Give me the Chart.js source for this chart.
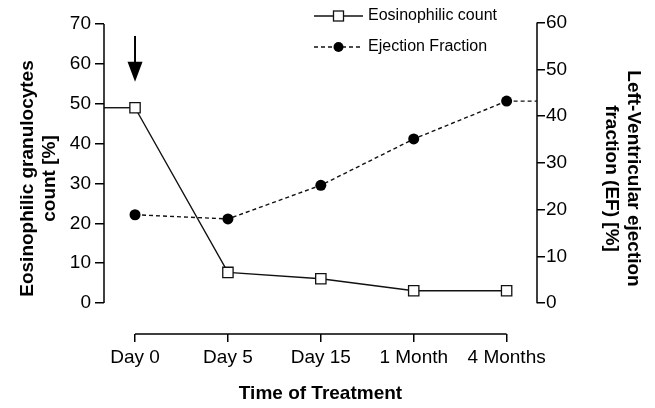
<!DOCTYPE html>
<html><head><meta charset="utf-8">
<script src="https://cdn.jsdelivr.net/npm/chart.js@4/dist/chart.umd.min.js"></script>
<style>html,body{margin:0;padding:0;background:#fff}</style>
</head><body>
<canvas id="c" width="655" height="408"></canvas>
<script>
const categories = ['Day 0', 'Day 5', 'Day 15', '1 Month', '4 Months'];
const eosinophilCount = [49, 7.7, 6.1, 3.1, 3.1];
const ejectionFraction = [18.9, 18.0, 25.2, 35.1, 43.2];
const leftTicks = [0, 10, 20, 30, 40, 50, 60, 70];
const rightTicks = [0, 10, 20, 30, 40, 50, 60];
const seriesNames = ['Eosinophilic count', 'Ejection Fraction'];
const arrowFrom = 67;   // start of treatment arrow (eosinophil axis value) at Day 0
const arrowTo = 55.5;

const FONT = 'Liberation Sans, Arial, Helvetica, sans-serif';
Chart.defaults.font.family = FONT;
Chart.defaults.font.size = 19;
Chart.defaults.color = '#000';

const decor = {
  id: 'decor',
  beforeDatasetsDraw(chart) {
    const {ctx, chartArea: a, scales: {x, yL, yR}} = chart;
    const last = categories.length - 1;
    ctx.save();
    ctx.strokeStyle = '#000';
    ctx.lineWidth = 1.5;
    ctx.setLineDash([]);
    ctx.beginPath();
    ctx.moveTo(a.left, yL.getPixelForValue(leftTicks[0]));
    ctx.lineTo(a.left, yL.getPixelForValue(leftTicks[leftTicks.length - 1]));
    ctx.moveTo(a.right, yR.getPixelForValue(rightTicks[0]));
    ctx.lineTo(a.right, yR.getPixelForValue(rightTicks[rightTicks.length - 1]));
    ctx.moveTo(x.getPixelForValue(0), a.bottom);
    ctx.lineTo(x.getPixelForValue(last), a.bottom);
    ctx.stroke();
    // series extensions to their axes
    ctx.lineWidth = 1.4;
    ctx.strokeStyle = '#111';
    ctx.beginPath();
    ctx.moveTo(a.left, yL.getPixelForValue(eosinophilCount[0]));
    ctx.lineTo(x.getPixelForValue(0), yL.getPixelForValue(eosinophilCount[0]));
    ctx.stroke();
    ctx.setLineDash([4, 3]);
    ctx.beginPath();
    ctx.moveTo(x.getPixelForValue(last), yR.getPixelForValue(ejectionFraction[last]));
    ctx.lineTo(a.right, yR.getPixelForValue(ejectionFraction[last]));
    ctx.stroke();
    ctx.restore();
  },
  afterDraw(chart) {
    const {ctx, scales: {x, yL}} = chart;
    ctx.save();
    // arrow
    const ax = x.getPixelForValue(0);
    const yTop = yL.getPixelForValue(arrowFrom), yTip = yL.getPixelForValue(arrowTo);
    const head = 20;
    ctx.strokeStyle = '#000'; ctx.fillStyle = '#000'; ctx.lineWidth = 2;
    ctx.beginPath(); ctx.moveTo(ax, yTop); ctx.lineTo(ax, yTip - head + 1); ctx.stroke();
    ctx.beginPath(); ctx.moveTo(ax - 7.5, yTip - head); ctx.lineTo(ax + 7.5, yTip - head); ctx.lineTo(ax, yTip); ctx.closePath(); ctx.fill();
    // legend
    const rows = [16, 47];
    const x0 = 314, x1 = 363, tx = 368;
    chart.data.datasets.forEach((ds, i) => {
      const y = rows[i];
      ctx.lineWidth = 1.4; ctx.strokeStyle = '#111';
      ctx.setLineDash(ds.borderDash || []);
      ctx.beginPath(); ctx.moveTo(x0, y); ctx.lineTo(x1, y); ctx.stroke();
      ctx.setLineDash([]);
      const cx = (x0 + x1) / 2;
      if (ds.pointStyle === 'rect') {
        ctx.fillStyle = '#fff'; ctx.lineWidth = 1.3;
        ctx.fillRect(cx - 5, y - 5, 10, 10); ctx.strokeRect(cx - 5, y - 5, 10, 10);
      } else {
        ctx.fillStyle = '#000';
        ctx.beginPath(); ctx.arc(cx, y, 5, 0, Math.PI * 2); ctx.fill();
      }
      ctx.fillStyle = '#000';
      ctx.font = '16px ' + FONT;
      ctx.textAlign = 'left'; ctx.textBaseline = 'middle';
      ctx.fillText(seriesNames[i], tx, y);
    });
    ctx.restore();
  }
};

new Chart(document.getElementById('c'), {
  type: 'line',
  data: {
    datasets: [
      {
        label: seriesNames[0],
        data: eosinophilCount.map((v, i) => ({x: i, y: v})),
        yAxisID: 'yL',
        borderColor: '#111', borderWidth: 1.4,
        pointStyle: 'rect', pointRadius: 7.3, pointBorderWidth: 1.3,
        pointBackgroundColor: '#fff', pointBorderColor: '#111',
        tension: 0, fill: false
      },
      {
        label: seriesNames[1],
        data: ejectionFraction.map((v, i) => ({x: i, y: v})),
        yAxisID: 'yR',
        borderColor: '#111', borderWidth: 1.4, borderDash: [4, 3],
        pointStyle: 'circle', pointRadius: 5.5, pointBorderWidth: 0,
        pointBackgroundColor: '#000', pointBorderColor: '#000',
        tension: 0, fill: false
      }
    ]
  },
  options: {
    responsive: false, animation: false, devicePixelRatio: 1,
    layout: {padding: {top: 23, left: 0, right: 0, bottom: 0}},
    plugins: {legend: {display: false}, tooltip: {enabled: false}},
    scales: {
      x: {
        type: 'linear', min: -0.334, max: 4.327,
        afterBuildTicks: s => { s.ticks = categories.map((c, i) => ({value: i})); },
        afterFit: s => { s.height = 74; },
        ticks: {callback: v => categories[v], padding: 4, autoSkip: false, maxRotation: 0, color: '#000', font: {size: 19}},
        grid: {drawOnChartArea: false, drawTicks: true, tickLength: 8, color: '#000', lineWidth: 1.5},
        border: {display: false},
        title: {display: true, text: 'Time of Treatment', font: {size: 19, weight: 'bold'}, color: '#000', padding: {top: 0, bottom: 3}}
      },
      yL: {
        position: 'left', min: -7.75, max: 70.25,
        afterBuildTicks: s => { s.ticks = leftTicks.map(v => ({value: v})); },
        afterFit: s => { s.width = 104; },
        ticks: {padding: 4, color: '#000', font: {size: 19}},
        grid: {drawOnChartArea: false, drawTicks: true, tickLength: 9, color: '#000', lineWidth: 1.5},
        border: {display: false},
        title: {display: true, text: ['Eosinophilic granulocytes', 'count [%]'], font: {size: 19, weight: 'bold'}, color: '#000', padding: {top: 16, bottom: 0}}
      },
      yR: {
        position: 'right', min: -6.6, max: 59.9,
        afterBuildTicks: s => { s.ticks = rightTicks.map(v => ({value: v})); },
        afterFit: s => { s.width = 118; },
        ticks: {padding: 1, color: '#000', font: {size: 19}},
        grid: {drawOnChartArea: false, drawTicks: true, tickLength: 8, color: '#000', lineWidth: 1.5},
        border: {display: false},
        title: {display: true, text: ['Left-Ventricular ejection', 'fraction (EF) [%]'], font: {size: 19, weight: 'bold'}, color: '#000', padding: {top: 10, bottom: 0}}
      }
    }
  },
  plugins: [decor]
});
</script>
</body></html>
